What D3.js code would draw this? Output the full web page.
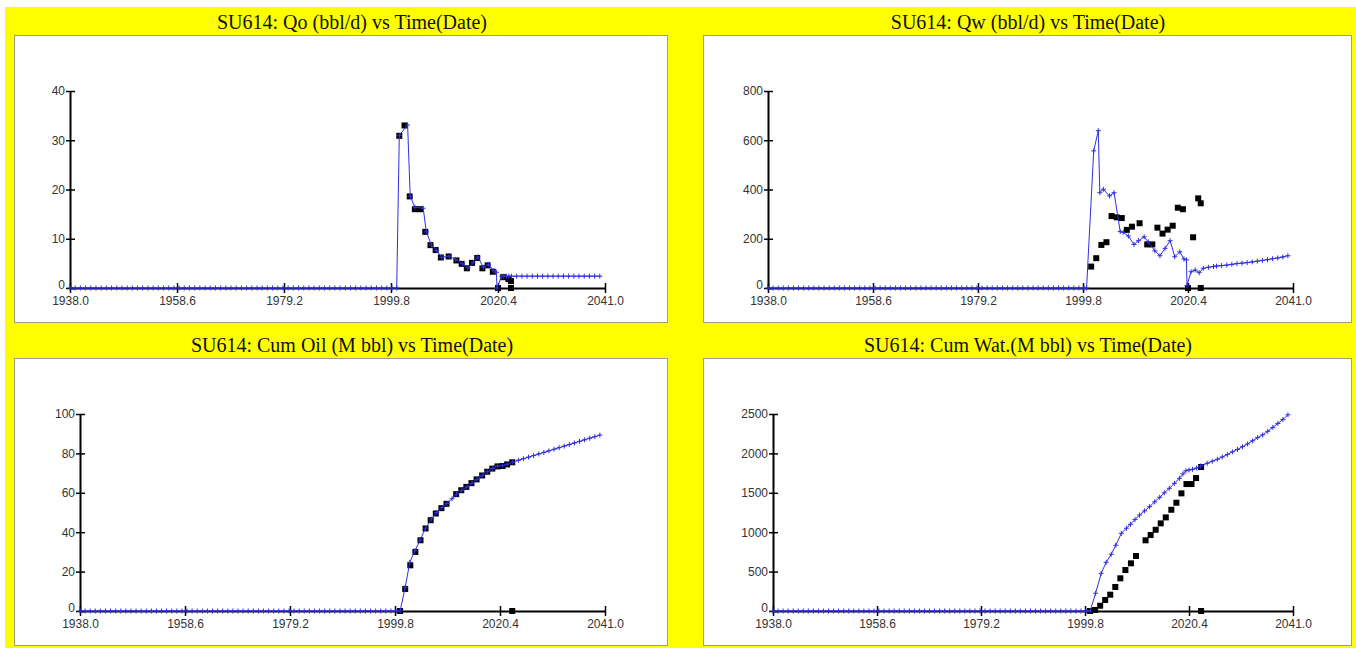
<!DOCTYPE html>
<html>
<head>
<meta charset="utf-8">
<script src="https://cdn.jsdelivr.net/npm/d3@7"></script>
<style>
  body { margin: 0; background: #fff; }
  svg { display: block; }
</style>
</head>
<body>
<svg id="chart" width="1356" height="648"></svg>
<script>
// x axis ticks shared by all four plots
const xTicks = [1938.0, 1958.6, 1979.2, 1999.8, 2020.4, 2041.0];

// simulated history before first production (same for every plot)
const preYears = [1938, 1939, 1940, 1941, 1942, 1943, 1944, 1945, 1946, 1947, 1948, 1949, 1950,
  1951, 1952, 1953, 1954, 1955, 1956, 1957, 1958, 1959, 1960, 1961, 1962, 1963, 1964, 1965,
  1966, 1967, 1968, 1969, 1970, 1971, 1972, 1973, 1974, 1975, 1976, 1977, 1978, 1979, 1980,
  1981, 1982, 1983, 1984, 1985, 1986, 1987, 1988, 1989, 1990, 1991, 1992, 1993, 1994, 1995,
  1996, 1997, 1998, 1999, 2000];
const preValues = [0, 0, 0, 0, 0, 0, 0, 0, 0, 0, 0, 0, 0, 0, 0, 0, 0, 0, 0, 0, 0, 0, 0, 0, 0,
  0, 0, 0, 0, 0, 0, 0, 0, 0, 0, 0, 0, 0, 0, 0, 0, 0, 0, 0, 0, 0, 0, 0, 0, 0, 0, 0, 0, 0, 0, 0,
  0, 0, 0, 0, 0, 0, 0];

// observed (black squares)
const rateObsYears = [2001.4, 2002.4, 2003.4, 2004.4, 2005.4, 2006.4, 2007.4, 2008.4, 2009.4, 2010.9,
  2012.4, 2013.4, 2014.4, 2015.4, 2016.4, 2017.4, 2018.4, 2019.4, 2020.4, 2021.4, 2022.4, 2022.9, 2022.9];
const qoObs = [30.9, 33.0, 18.6, 16.0, 16.0, 11.4, 8.7, 7.7, 6.2, 6.4, 5.6, 4.9, 4.0, 5.1, 6.1, 4.0,
  4.6, 3.3, 0, 2.2, 1.8, 1.4, 0];
const qwObs = [87, 121, 175, 186, 292, 287, 284, 236, 249, 263, 177, 177, 245, 221, 237, 253, 326,
  320, 0, 206, 364, 344, 0];

const cumObsYears = [2000.8, 2001.8, 2002.8, 2003.8, 2004.8, 2005.8, 2006.8, 2007.8, 2008.9, 2009.9,
  2011.8, 2012.8, 2013.8, 2014.8, 2015.8, 2016.9, 2017.9, 2018.9, 2019.9, 2020.9, 2021.8, 2022.8, 2022.8];
const cumOilObs = [0, 11.2, 23.2, 30.0, 35.9, 41.9, 46.1, 49.5, 52.2, 54.4, 59.3, 61.3, 63.0, 64.9,
  66.8, 68.8, 70.7, 72.3, 73.4, 73.6, 74.4, 75.5, 0];
const cumWatObs = [0, 13, 67, 140, 207, 305, 415, 520, 605, 698, 897, 964, 1031, 1112, 1188, 1285,
  1374, 1493, 1611, 1611, 1687, 1827, 0];

// simulated (blue line with crosses), after first production
const qoSimYears = [2000.9, 2001.4, 2003.0, 2003.5, 2004.4, 2006.0, 2006.6, 2007.6, 2008.6, 2009.6,
  2011.0, 2012.2, 2013.6, 2014.6, 2015.6, 2016.5, 2017.6, 2018.6, 2019.6, 2020.1, 2020.2, 2021.1,
  2021.5, 2022.0, 2022.5, 2023.0, 2024, 2025, 2026, 2027, 2028, 2029, 2030, 2031, 2032, 2033, 2034,
  2035, 2036, 2037, 2038, 2039, 2040];
const qoSim = [0, 31, 33.1, 18.6, 16.4, 16.2, 11.4, 8.7, 7.6, 6.2, 6.5, 5.8, 4.9, 4.1, 5.2, 6.3, 4.2,
  4.8, 3.5, 3.2, 0, 2.4, 2.4, 2.4, 2.4, 2.4, 2.4, 2.4, 2.4, 2.4, 2.4, 2.4, 2.4, 2.4, 2.4, 2.4, 2.4,
  2.4, 2.4, 2.4, 2.4, 2.4, 2.4];

const qwSimYears = [2000.5, 2001.9, 2002.8, 2003.1, 2003.8, 2005.0, 2005.9, 2007.1, 2007.7, 2008.7,
  2009.8, 2010.7, 2011.8, 2012.6, 2013.9, 2014.9, 2015.9, 2016.9, 2017.8, 2018.8, 2019.6, 2020.1,
  2020.2, 2021.0, 2021.8, 2022.6, 2023.4, 2024.4, 2025.4, 2026, 2027, 2028, 2029, 2030, 2031, 2032,
  2033, 2034, 2035, 2036, 2037, 2038, 2039, 2040];
const qwSim = [0, 557, 639, 387, 401, 374, 387, 229, 226, 211, 177, 192, 208, 187, 151, 131, 161, 192,
  127, 147, 118, 114, 10, 66, 73, 62, 80, 84, 87, 89, 91, 93, 96, 99, 101, 103, 106, 109, 112, 115,
  119, 122, 126, 131];

const cumOilSimYears = [2000.8, 2001.8, 2002.7, 2003.7, 2004.7, 2005.8, 2007.0, 2008.0, 2009.0, 2010.0,
  2011.0, 2011.9, 2012.9, 2013.9, 2014.9, 2015.9, 2016.9, 2017.9, 2018.9, 2019.9, 2020.9, 2021.8,
  2022.9, 2024, 2025, 2026, 2027, 2028, 2029, 2030, 2031, 2032, 2033, 2034, 2035, 2036, 2037, 2038,
  2039, 2040];
const cumOilSim = [0, 12, 24.7, 30.5, 36.0, 42.0, 46.7, 50.0, 52.5, 54.6, 57.0, 59.3, 61.3, 63.0, 64.9,
  66.8, 68.8, 70.7, 72.3, 73.6, 73.8, 74.5, 75.6, 76.5, 77.3, 78.1, 78.9, 79.7, 80.5, 81.3, 82.1,
  82.9, 83.7, 84.5, 85.3, 86.1, 86.9, 87.7, 88.5, 89.3];

const cumWatSimYears = [2000.8, 2001.9, 2003.0, 2004.0, 2005.0, 2005.9, 2007.0, 2008.0, 2008.8, 2009.7,
  2010.6, 2011.6, 2012.6, 2013.6, 2014.6, 2015.5, 2016.5, 2017.5, 2018.5, 2019.2, 2019.8, 2020.4,
  2021.1, 2021.9, 2022.7, 2024, 2025, 2026, 2027, 2028, 2029, 2030, 2031, 2032, 2033, 2034, 2035,
  2036, 2037, 2038, 2039, 2040];
const cumWatSim = [0, 225, 478, 618, 720, 834, 986, 1050, 1100, 1160, 1218, 1270, 1324, 1385, 1443,
  1500, 1557, 1620, 1684, 1740, 1780, 1790, 1798, 1815, 1840, 1875, 1900, 1925, 1955, 1985, 2020,
  2050, 2085, 2120, 2160, 2200, 2235, 2280, 2330, 2380, 2430, 2490];

const panels = [
  { title: 'SU614: Qo (bbl/d) vs Time(Date)', box: [14, 35, 654, 288], titleX: 352,
    axisLeft: 70, axisRight: 605, yTicks: [0, 10, 20, 30, 40],
    obsX: rateObsYears, obsY: qoObs, simX: qoSimYears, simY: qoSim },
  { title: 'SU614: Qw (bbl/d) vs Time(Date)', box: [703, 35, 649, 288], titleX: 1028,
    axisLeft: 768, axisRight: 1293, yTicks: [0, 200, 400, 600, 800],
    obsX: rateObsYears, obsY: qwObs, simX: qwSimYears, simY: qwSim },
  { title: 'SU614: Cum Oil (M bbl) vs Time(Date)', box: [14, 358, 654, 288], titleX: 352,
    axisLeft: 80, axisRight: 605, yTicks: [0, 20, 40, 60, 80, 100],
    obsX: cumObsYears, obsY: cumOilObs, simX: cumOilSimYears, simY: cumOilSim },
  { title: 'SU614: Cum Wat.(M bbl) vs Time(Date)', box: [703, 358, 649, 288], titleX: 1028,
    axisLeft: 773, axisRight: 1293, yTicks: [0, 500, 1000, 1500, 2000, 2500],
    obsX: cumObsYears, obsY: cumWatObs, simX: cumWatSimYears, simY: cumWatSim }
];

const svg = d3.select('#chart');

svg.append('rect')
   .attr('x', 5).attr('y', 7)
   .attr('width', 1351).attr('height', 641)
   .attr('fill', '#ffff00');

const blue = '#2f2fe0';

panels.forEach(p => {
  const [bx, by, bw, bh] = p.box;
  const g = svg.append('g');

  g.append('text')
   .attr('x', p.titleX)
   .attr('y', by - 6)
   .attr('text-anchor', 'middle')
   .attr('font-family', '"Liberation Serif", "Times New Roman", serif')
   .attr('font-size', '20px')
   .attr('fill', '#111')
   .text(p.title);

  g.append('rect')
   .attr('x', bx + 0.5).attr('y', by + 0.5)
   .attr('width', bw - 1).attr('height', bh - 1)
   .attr('fill', '#fff')
   .attr('stroke', '#a0a080');

  const x = d3.scaleLinear()
              .domain([xTicks[0], xTicks[xTicks.length - 1]])
              .range([p.axisLeft, p.axisRight]);
  const y = d3.scaleLinear()
              .domain([0, p.yTicks[p.yTicks.length - 1]])
              .range([by + 253, by + 56]);

  // axes
  const xAxis = d3.axisBottom(x).tickValues(xTicks).tickFormat(d3.format('.1f'))
                  .tickSizeInner(5).tickSizeOuter(0).tickPadding(2);
  const gx = g.append('g')
              .attr('transform', `translate(0,${y(0)})`)
              .call(xAxis);
  gx.selectAll('.tick line').attr('y1', -5).attr('y2', 5).attr('stroke-width', 1.5);
  gx.selectAll('.tick text').attr('y', 8);

  const yAxis = d3.axisLeft(y).tickValues(p.yTicks).tickFormat(d3.format('d'))
                  .tickSizeInner(4).tickSizeOuter(0).tickPadding(1);
  const gy = g.append('g')
              .attr('transform', `translate(${p.axisLeft},0)`)
              .call(yAxis);
  gy.selectAll('.tick line').attr('x1', -4).attr('x2', 5).attr('stroke-width', 1.5);
  // lift the zero label a little so it sits clear of the first date label
  gy.selectAll('.tick text').filter(d => d === 0).attr('dy', '0.05em');

  [gx, gy].forEach(a => {
    a.select('.domain').attr('stroke', '#000').attr('stroke-width', 2);
    a.selectAll('.tick text')
     .attr('font-family', 'Arial, "Liberation Sans", sans-serif')
     .attr('font-size', '12px')
     .attr('fill', '#333');
  });

  // observed squares
  const obs = p.obsX.map((d, i) => ({ t: d, v: p.obsY[i] }));
  g.selectAll('.obs')
   .data(obs)
   .enter()
   .append('rect')
   .attr('class', 'obs')
   .attr('x', d => x(d.t) - 3)
   .attr('y', d => y(d.v) - 3)
   .attr('width', 6)
   .attr('height', 6)
   .attr('fill', '#000');

  // simulated line
  const sim = preYears.map((d, i) => ({ t: d, v: preValues[i] }))
                      .concat(p.simX.map((d, i) => ({ t: d, v: p.simY[i] })));
  const line = d3.line().x(d => x(d.t)).y(d => y(d.v));
  g.append('path')
   .datum(sim)
   .attr('fill', 'none')
   .attr('stroke', blue)
   .attr('stroke-width', 1)
   .attr('d', line);

  g.selectAll('.cross')
   .data(sim)
   .enter()
   .append('path')
   .attr('class', 'cross')
   .attr('transform', d => `translate(${x(d.t)},${y(d.v)})`)
   .attr('d', 'M-2.5,0H2.5M0,-2.5V2.5')
   .attr('stroke', blue)
   .attr('stroke-width', 1);
});
</script>
</body>
</html>
